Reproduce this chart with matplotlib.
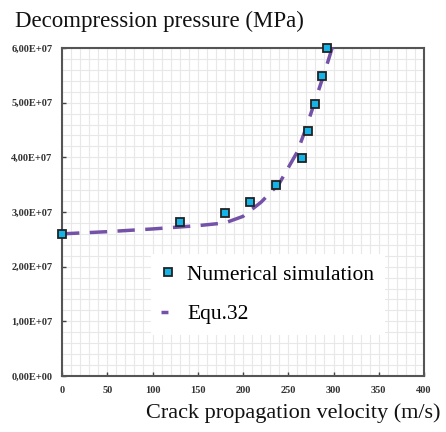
import matplotlib.pyplot as plt
from matplotlib.ticker import MultipleLocator, FuncFormatter

# simulation points (velocity m/s, pressure Pa)
sim_velocity = [0, 130, 180, 208, 237, 265, 272, 280, 287, 293]
sim_pressure = [2.60e7, 2.81e7, 2.98e7, 3.18e7, 3.49e7, 3.99e7, 4.48e7, 4.97e7, 5.48e7, 6.00e7]

# Equ.32 curve
eq_velocity = [0, 50, 100, 150, 180, 200, 220, 240, 260, 270, 280, 290, 300]
eq_pressure = [2.60e7, 2.64e7, 2.69e7, 2.75e7, 2.80e7, 2.92e7, 3.18e7, 3.52e7, 4.10e7, 4.55e7, 5.05e7, 5.55e7, 6.08e7]

x_ticks = [0, 50, 100, 150, 200, 250, 300, 350, 400]
y_ticks = [0, 1e7, 2e7, 3e7, 4e7, 5e7, 6e7]

SERIF = ["Liberation Serif", "DejaVu Serif"]


def sci_comma(v, _pos):
    s = f"{v:.2E}"
    return s.replace(".", ",")


fig = plt.figure(figsize=(4.46, 4.32), dpi=100)
ax = fig.add_axes([62 / 446, 56 / 432, 362 / 446, 328 / 432])

ax.plot(eq_velocity, eq_pressure, color="#7452a8", lw=2.5,
        dashes=(5, 3), label="Equ.32", zorder=3, clip_on=False)
ax.plot(sim_velocity, sim_pressure, ls="none", marker="s", ms=5.5,
        mfc="#14b4e8", mec="#222222", mew=1.3, label="Numerical simulation",
        zorder=4, clip_on=False)

ax.set_xlim(0, 400)
ax.set_ylim(0, 6e7)
ax.set_xticks(x_ticks)
ax.set_yticks(y_ticks)
ax.xaxis.set_minor_locator(MultipleLocator(10))
ax.yaxis.set_minor_locator(MultipleLocator(2e6))
ax.grid(which="both", color="#e8e8e8", lw=0.8, zorder=0)
ax.set_axisbelow(True)
ax.yaxis.set_major_formatter(FuncFormatter(sci_comma))
ax.tick_params(which="minor", length=0)
ax.tick_params(which="major", direction="in", length=3, width=1,
               color="#444444", pad=7)
for lab in ax.get_xticklabels() + ax.get_yticklabels():
    lab.set_family(SERIF)
    lab.set_fontweight("bold")
    lab.set_fontsize(7.5)
    lab.set_color("#333333")
for sp in ax.spines.values():
    sp.set_color("#555555")
    sp.set_linewidth(1.5)

handles, labels = ax.get_legend_handles_labels()
leg = ax.legend(handles[::-1], labels[::-1], loc="upper left",
                bbox_to_anchor=(0.215, 0.405), frameon=True, fancybox=False,
                facecolor="white", edgecolor="none", framealpha=1,
                handlelength=0.6, handletextpad=0.6, labelspacing=0.9,
                borderpad=0.5, prop={"family": SERIF, "size": 15.5})
leg.get_lines()[1].set_dashes((2, 2))

fig.text(15 / 446, 1 - 27 / 432, "Decompression pressure (MPa)",
         family=SERIF, fontsize=16.5, color="#111111", va="baseline")
fig.text(146 / 446, 1 - 418 / 432, "Crack propagation velocity (m/s)",
         family=SERIF, fontsize=16, color="#111111", va="baseline")

fig.savefig("out.png", dpi=100)
